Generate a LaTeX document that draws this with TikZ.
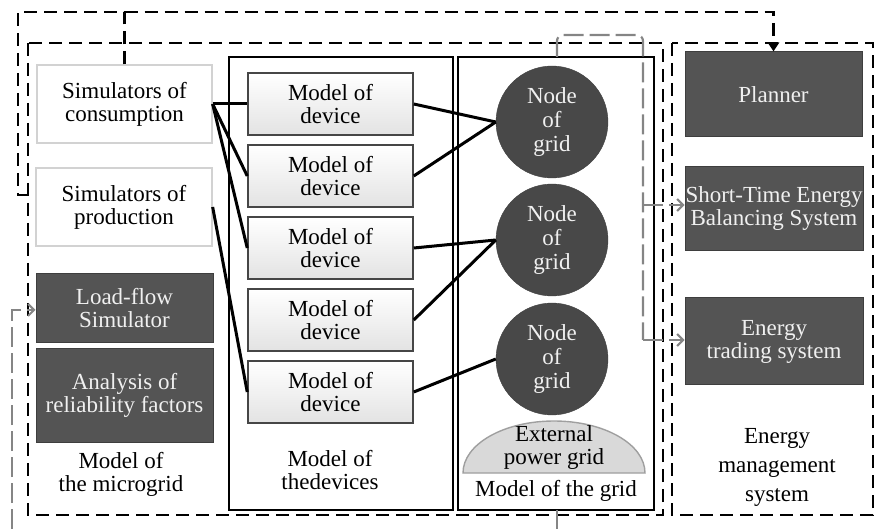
\documentclass[tikz,border=0pt]{standalone}
\usepackage{fontspec}
\setmainfont{Liberation Serif}
\usetikzlibrary{arrows.meta,shapes.geometric}
\definecolor{boxdark}{HTML}{545454}
\definecolor{boxedge}{HTML}{3E3E3E}
\definecolor{nodedark}{HTML}{484848}
\definecolor{linegray}{HTML}{858585}
\definecolor{extgray}{HTML}{D9D9D9}
\begin{document}
\begin{tikzpicture}[x=1pt,y=-1pt,
  txt/.style={font=\fontsize{23}{23}\selectfont, align=center},
  darkbox/.style={txt, rectangle, fill=boxdark, draw=boxedge, line width=1pt, text=white!94!black, inner sep=0pt},
  whitebox/.style={txt, rectangle, fill=white, draw=gray!35, line width=1.3pt, inner sep=0pt},
  devbox/.style={txt, rectangle, top color=white, bottom color=gray!22, draw=gray!55!black, line width=1.5pt, inner sep=0pt, minimum width=165pt, minimum height=62pt},
  gridnode/.style={circle, fill=nodedark, draw=nodedark!90!black, text=white!94!black, minimum size=112pt, inner sep=0pt, align=center, font=\fontsize{23}{24}\selectfont},
  conn/.style={line width=3pt, black},
  blackdash/.style={line width=2.8pt, black, dash pattern=on 13pt off 7pt},
  solidbox/.style={line width=2.6pt, black},
  graydash/.style={line width=2.2pt, linegray, dash pattern=on 20pt off 6pt},
  grayarrow/.style={graydash, -{Straight Barb[length=6pt,width=12pt,line width=2pt]}}
]
\useasboundingbox (0,0) rectangle (876,529);

% dashed frames
\draw[blackdash] (28,43) rectangle (663,515);
\draw[blackdash] (672,43) rectangle (873,515);
% solid frames
\draw[solidbox] (229,57) rectangle (453,510);
\draw[solidbox] (458,57) rectangle (654,510);

% microgrid column
\node[whitebox, minimum width=175pt, minimum height=78pt] (cons) at (124.5,104) {Simulators of\\consumption};
\node[whitebox, minimum width=176pt, minimum height=78pt] (prod) at (124,207) {Simulators of\\production};
\node[darkbox, minimum width=177pt, minimum height=69pt] (load) at (124.5,308.5) {Load-flow\\Simulator};
\node[darkbox, minimum width=177pt, minimum height=93pt] (anal) at (124.5,395.5) {Analysis of\\reliability factors};
\node[txt] (lmicro) at (121,474) {Model of\\the microgrid};

% devices column
\node[devbox] (dev1) at (330.5,104) {Model of\\device};
\node[devbox] (dev2) at (330.5,176) {Model of\\device};
\node[devbox] (dev3) at (330.5,248) {Model of\\device};
\node[devbox] (dev4) at (330.5,320) {Model of\\device};
\node[devbox] (dev5) at (330.5,392) {Model of\\device};
\node[txt] (ldev) at (330,470) {Model of\\thedevices};

% grid column
\node[gridnode] (n1) at (552,122) {Node\\of\\grid};
\node[gridnode] (n2) at (552,240) {Node\\of\\grid};
\node[gridnode] (n3) at (552,359) {Node\\of\\grid};
\draw[fill=extgray, draw=gray!75, line width=1.4pt] (463,473) arc[start angle=180, end angle=0, x radius=91pt, y radius=52pt] -- cycle;
\node[txt] (ext) at (554,448) {External\\power grid};
\node[txt] (lgrid) at (556,491) {Model of the grid};

% energy management system
\node[darkbox, minimum width=177pt, minimum height=85pt] (plan) at (773.5,94.5) {Planner};
\node[darkbox, minimum width=178pt, minimum height=84pt] (stebs) at (774,209) {Short-Time Energy\\Balancing System};
\node[darkbox, minimum width=178pt, minimum height=87pt] (ets) at (774,341.5) {Energy\\trading system};
\node[txt, font=\fontsize{23}{29}\selectfont] (lems) at (777,467) {Energy\\management\\system};

% black connectors
\draw[conn] (cons.east) -- (dev1.west);
\draw[conn] (cons.east) -- (dev2.west);
\draw[conn] (cons.east) -- (dev3.west);
\draw[conn] (prod.east) -- (dev5.west);
\draw[conn] (dev1.east) -- (n1.west);
\draw[conn] (dev2.east) -- (n1.west);
\draw[conn] (dev3.east) -- (n2.west);
\draw[conn] (dev4.east) -- (n2.west);
\draw[conn] (dev5.east) -- (n3.west);

% black dashed feedback
\coordinate (j1) at (124.5,12);
\coordinate (j2) at (18,195);
\coordinate (j3) at (28,195);
\draw[blackdash] (cons.north) -- (j1) -| (j2) -- (j3);
\draw[blackdash, -{Triangle[length=9pt,width=11pt]}] (j1) -| (plan.north);

% gray connectors
\coordinate (g0) at (557,57);
\coordinate (g1) at (557,35);
\coordinate (g2) at (643,35);
\coordinate (g3) at (643,205);
\coordinate (g4) at (643,340);
\coordinate (gb0) at (557,510);
\coordinate (gb1) at (557,529);
\coordinate (gl0) at (12,529);
\coordinate (gl1) at (12,310);
\draw[graydash, rounded corners=6pt] (g0) -- (g1) -- (g2) -- (g4);
\draw[grayarrow] (g3) -- (stebs.west |- g3);
\draw[grayarrow] (g4) -- (ets.west |- g4);
\draw[graydash] (gb0) -- (gb1);
\draw[grayarrow] (gl0) -- (gl1) -- (load.west |- gl1);
\end{tikzpicture}
\end{document}
